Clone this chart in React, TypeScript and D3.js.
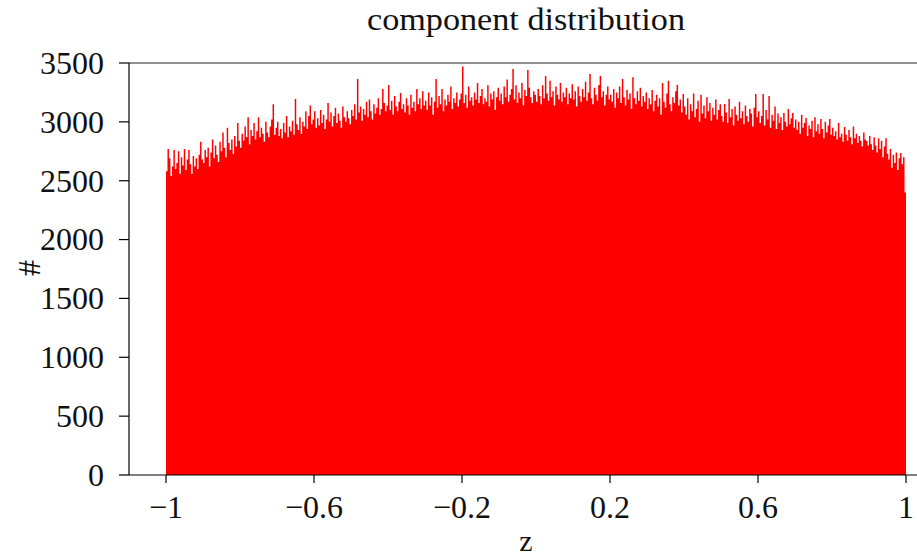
import React from "react";
import * as d3 from "d3";

const title = "component distribution";
const xLabel = "z";
const yLabel = "#";
const xTicks = [-1, -0.6, -0.2, 0.2, 0.6, 1];
const yTicks = [0, 500, 1000, 1500, 2000, 2500, 3000, 3500];
const xRange = [-1, 1];

// histogram counts, 500 bins from -1 to 1
const counts = [
  2580, 2770, 2690, 2540, 2620, 2760, 2600, 2650, 2750, 2560, 2700, 2630, 2770, 2590, 2680, 2760, 2640, 2560, 2710, 2620, 2690, 2600, 2720, 2830, 2680,
  2650, 2760, 2700, 2780, 2620, 2740, 2850, 2690, 2800, 2720, 2660, 2830, 2750, 2910, 2780, 2700, 2950, 2820, 2760, 2850, 2730, 2880, 2790, 2990, 2840,
  2780, 2900, 2840, 2960, 2870, 3040, 2810, 2930, 2880, 2990, 2850, 2920, 3040, 2870, 2950, 2900, 2830, 3000, 2910, 2870, 2960, 3020, 3150, 2890, 2950,
  3000, 2880, 2940, 2860, 2990, 2910, 3050, 2870, 2960, 2920, 3010, 2890, 3195, 2980, 2930, 3040, 2900, 3000, 2960, 3090, 2940, 3050, 3140, 2980, 3020,
  3090, 2950, 3030, 2970, 3100, 2990, 3060, 2940, 3020, 3160, 3000, 3080, 2960, 3050, 3120, 2990, 3070, 3010, 2950, 3130, 3040, 3000, 3090, 3030, 2980,
  3100, 3050, 3150, 3020, 3364, 3080, 3130, 3010, 3110, 3060, 3170, 3040, 3190, 3090, 3020, 3150, 3070, 3120, 3200, 3060, 3110, 3280, 3160, 3090, 3140,
  3314, 3100, 3180, 3060, 3220, 3130, 3090, 3170, 3245, 3110, 3150, 3080, 3200, 3140, 3060, 3230, 3120, 3170, 3090, 3280, 3150, 3200, 3110, 3260, 3140,
  3180, 3100, 3250, 3140, 3210, 3060, 3170, 3364, 3120, 3220, 3150, 3280, 3090, 3190, 3140, 3230, 3170, 3300, 3110, 3200, 3160, 3250, 3130, 3190, 3240,
  3470, 3160, 3230, 3120, 3300, 3180, 3210, 3140, 3250, 3190, 3330, 3160, 3220, 3280, 3150, 3200, 3170, 3310, 3130, 3240, 3190, 3260, 3100, 3210, 3290,
  3180, 3240, 3150, 3300, 3210, 3360, 3170, 3230, 3280, 3450, 3190, 3310, 3160, 3250, 3200, 3330, 3140, 3270, 3220, 3440, 3290, 3210, 3160, 3260, 3230,
  3170, 3280, 3220, 3150, 3310, 3200, 3390, 3240, 3180, 3350, 3210, 3260, 3140, 3300, 3230, 3190, 3330, 3170, 3250, 3210, 3290, 3150, 3240, 3200, 3320,
  3190, 3260, 3130, 3300, 3220, 3170, 3280, 3210, 3340, 3180, 3250, 3407, 3200, 3150, 3290, 3230, 3180, 3310, 3390, 3210, 3260, 3140, 3230, 3300, 3190,
  3230, 3170, 3280, 3120, 3250, 3200, 3300, 3160, 3364, 3210, 3140, 3270, 3190, 3240, 3110, 3380, 3200, 3150, 3260, 3180, 3290, 3130, 3220, 3170, 3250,
  3110, 3200, 3150, 3270, 3090, 3180, 3230, 3130, 3200, 3060, 3330, 3170, 3120, 3240, 3350, 3150, 3090, 3210, 3160, 3260, 3314, 3140, 3190, 3080, 3237,
  3130, 3060, 3200, 3020, 3150, 3090, 3240, 3040, 3110, 3180, 3000, 3230, 3070, 3140, 3030, 3210, 3090, 3160, 3010, 3120, 3060, 3190, 3020, 3100, 3150,
  3050, 3000, 3152, 3080, 2990, 3195, 3040, 3110, 2970, 3130, 3060, 3010, 3170, 3030, 3090, 2980, 3140, 3050, 3000, 3110, 3070, 2960, 3120, 3237, 3040,
  3090, 2990, 3050, 3237, 2970, 3100, 3020, 3220, 2950, 3060, 3010, 3130, 2940, 3070, 2990, 3040, 2930, 3075, 3000, 2960, 3110, 2980, 3030, 3075, 2950,
  3020, 2930, 3000, 2900, 3060, 2950, 2990, 3033, 2880, 2970, 2940, 3010, 2870, 3040, 2920, 2980, 2900, 3025, 2940, 2860, 3000, 2910, 2970, 3025, 2890,
  2950, 2880, 2920, 2850, 2990, 2870, 2900, 2830, 2957, 2890, 2840, 2930, 2870, 2810, 2960, 2860, 2900, 2820, 2880, 2840, 2790, 2910, 2850, 2838, 2800,
  2880, 2810, 2760, 2870, 2800, 2740, 2860, 2770, 2840, 2700, 2790, 2860, 2730, 2680, 2770, 2610, 2720, 2650, 2740, 2590, 2690, 2736, 2640, 2700, 2400,
];

const W = 917;
const H = 559;
const left = 129;
const right = 943;
const top = 63;
const bottom = 475;
const font = "'Liberation Serif', 'DejaVu Serif', serif";
const fs = 32;

export default function App() {
  const x = d3.scaleLinear().domain([-1.1, 1.1]).range([left, right]);
  const y = d3.scaleLinear().domain([0, 3500]).range([bottom, top]);
  const n = counts.length;
  const bw = (xRange[1] - xRange[0]) / n;
  const pts = counts.map((c, i) => ({ x: xRange[0] + i * bw, c }));
  pts.push({ x: xRange[1], c: counts[n - 1] });
  const area = d3
    .area<{ x: number; c: number }>()
    .x((d) => x(d.x))
    .y0(bottom)
    .y1((d) => y(d.c))
    .curve(d3.curveStepAfter);
  const fmt = (v: number) => (v < 0 ? "\u2212" + String(Math.abs(v)) : String(v));

  return (
    <svg width={W} height={H} style={{ position: "absolute", left: 0, top: 0, background: "#fff" }}>
      <rect x={0} y={0} width={W} height={H} fill="#fff" />
      <path d={area(pts) || ""} fill="#ff0000" stroke="none" />
      {/* frame */}
      <line x1={left} x2={W} y1={top} y2={top} stroke="#222" strokeWidth={1.2} />
      <line x1={left} x2={W} y1={bottom} y2={bottom} stroke="#000" strokeWidth={1.2} />
      <line x1={left} x2={left} y1={top} y2={bottom} stroke="#000" strokeWidth={1.2} />
      {/* y ticks */}
      {yTicks.map((t) => (
        <g key={t}>
          <line x1={left - 10} x2={left} y1={y(t)} y2={y(t)} stroke="#000" strokeWidth={1.2} />
          <text x={104} y={y(t)} dy="0.34em" textAnchor="end" fontFamily={font} fontSize={fs} fill="#111">
            {fmt(t)}
          </text>
        </g>
      ))}
      {/* x ticks */}
      {xTicks.map((t) => (
        <g key={t}>
          <line x1={x(t)} x2={x(t)} y1={bottom} y2={bottom + 8} stroke="#000" strokeWidth={1.2} />
          <text x={x(t)} y={518} textAnchor="middle" fontFamily={font} fontSize={fs} fill="#111">
            {fmt(t)}
          </text>
        </g>
      ))}
      <text
        x={526}
        y={30}
        textAnchor="middle"
        fontFamily={font}
        fontSize={fs}
        fill="#111"
        textLength={318}
        lengthAdjust="spacingAndGlyphs"
      >
        {title}
      </text>
      <text x={526} y={551} textAnchor="middle" fontFamily={font} fontSize={30} fill="#111">
        {xLabel}
      </text>
      <text transform={`translate(40, 268) rotate(-90)`} textAnchor="middle" fontFamily={font} fontSize={fs} fill="#111">
        {yLabel}
      </text>
    </svg>
  );
}
